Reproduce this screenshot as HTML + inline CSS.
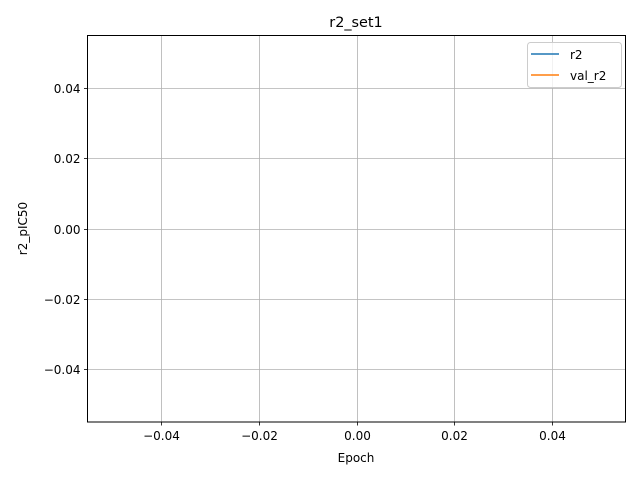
<!DOCTYPE html>
<html><head><meta charset="utf-8"><style>
body{margin:0;background:#fff}
svg{display:block;font-family:"DejaVu Sans","Liberation Sans",sans-serif}
</style></head><body>
<svg id="chart" width="640" height="480">
<rect width="640" height="480" fill="#fff"/>
<g id="grid"></g>
<g id="ticks"></g>
<g id="series"></g>
<rect x="87.5" y="35.5" width="538" height="386.5" fill="none" stroke="#000" stroke-width="1"/>
<text x="356" y="27" font-size="14.4" text-anchor="middle">r2_set1</text>
<text x="356" y="462" font-size="12" text-anchor="middle">Epoch</text>
<text transform="translate(27,228.5) rotate(-90)" font-size="12" text-anchor="middle">r2_pIC50</text>
<g>
<rect x="527.5" y="42.5" width="94" height="45" rx="3" fill="#fff" fill-opacity="0.8" stroke="#ccc"/>
<line x1="531" y1="54" x2="559" y2="54" stroke="#1f77b4" stroke-width="1.5"/>
<text x="570" y="59" font-size="12">r2</text>
<line x1="531" y1="75" x2="559" y2="75" stroke="#ff7f0e" stroke-width="1.5"/>
<text x="570" y="80" font-size="12">val_r2</text>
</g>
</svg>
<script>
const xTicks=[-0.04,-0.02,0.00,0.02,0.04];
const xTickLabels=["\u22120.04","\u22120.02","0.00","0.02","0.04"];
const yTicks=[-0.04,-0.02,0.00,0.02,0.04];
const yTickLabels=["\u22120.04","\u22120.02","0.00","0.02","0.04"];
const epochs=[];
const r2=[];
const valR2=[];
const X0=87.5,X1=625.5,Y0=422,Y1=35.5;
const xmin=-0.055,xmax=0.055,ymin=-0.055,ymax=0.055;
const sx=v=>X0+(v-xmin)/(xmax-xmin)*(X1-X0);
const sy=v=>Y0-(v-ymin)/(ymax-ymin)*(Y0-Y1);
const NS="http://www.w3.org/2000/svg";
const grid=document.getElementById('grid'),ticks=document.getElementById('ticks'),ser=document.getElementById('series');
function mk(tag,attrs,parent){const e=document.createElementNS(NS,tag);for(const k in attrs)e.setAttribute(k,attrs[k]);parent.appendChild(e);return e;}
xTicks.forEach((t,i)=>{const x=Math.round(sx(t))+0.5;
const g=mk('line',{x1:x,x2:x,y1:Y1,y2:Y0,stroke:'#b0b0b0','stroke-width':0.8},grid);


mk('line',{x1:x,x2:x,y1:Y0,y2:Y0+3.5,stroke:'#000','stroke-width':0.8},ticks);
const tx=mk('text',{x:x,y:Y0+18,'font-size':12,'text-anchor':'middle'},ticks);tx.textContent=xTickLabels[i];

});
yTicks.forEach((t,i)=>{const y=Math.round(sy(t))+0.5;
const g=mk('line',{x1:X0,x2:X1,y1:y,y2:y,stroke:'#b0b0b0','stroke-width':0.8},grid);


mk('line',{x1:X0-3.5,x2:X0,y1:y,y2:y,stroke:'#000','stroke-width':0.8},ticks);
const tx=mk('text',{x:X0-7,y:y+4.5,'font-size':12,'text-anchor':'end'},ticks);tx.textContent=yTickLabels[i];

});
function line(vals,color,name){if(!vals.length)return;
const p=mk('polyline',{points:vals.map((v,i)=>sx(epochs[i])+','+sy(v)).join(' '),fill:'none',stroke:color,'stroke-width':1.5},ser);

}
line(r2,'#1f77b4','r2-line');
line(valR2,'#ff7f0e','val-r2-line');
</script>
</body></html>
